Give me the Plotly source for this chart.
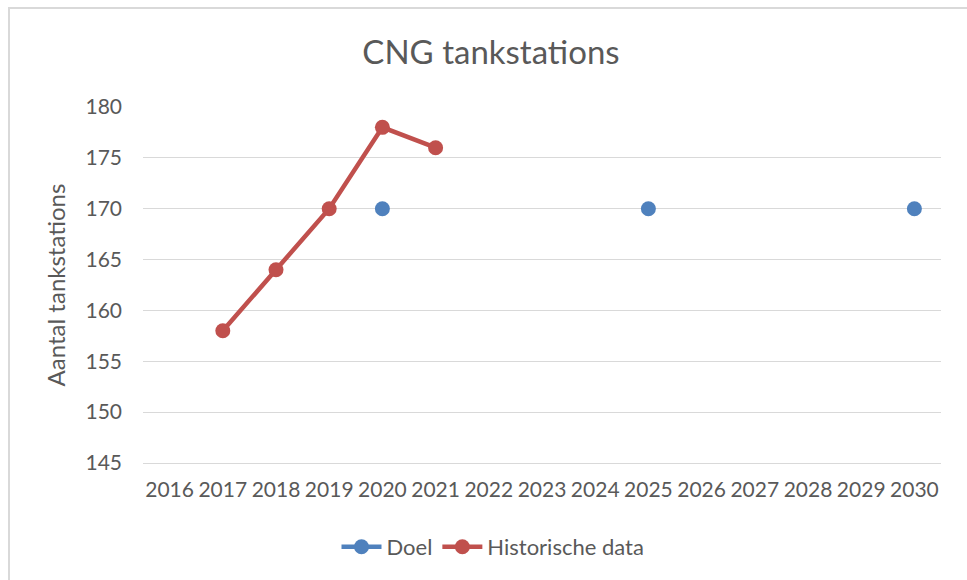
import plotly.graph_objects as go

categories = [str(y) for y in range(2016, 2031)]
doel_values = [None, None, None, None, 170, None, None, None, None, 170, None, None, None, None, 170]
hist_years = ["2017", "2018", "2019", "2020", "2021"]
hist_values = [158, 164, 170, 178, 176]

FONT = "Lato, Carlito, Calibri, sans-serif"
GREY = "#595959"
W, H = 967, 580
L, R, T, B = 143, 26, 107, 117
pw, ph = W - L - R, H - T - B

fig = go.Figure()
fig.add_trace(go.Scatter(
    x=categories, y=doel_values, name="Doel", mode="lines+markers", connectgaps=False,
    marker=dict(color="#4F81BD", size=15),
    line=dict(color="#4F81BD", width=4.5),
))
fig.add_trace(go.Scatter(
    x=hist_years, y=hist_values, name="Historische data", mode="lines+markers",
    marker=dict(color="#C0504D", size=15),
    line=dict(color="#C0504D", width=4.5),
))

fig.update_layout(
    width=W, height=H,
    margin=dict(l=L, r=R, t=T, b=B),
    paper_bgcolor="white", plot_bgcolor="white",
    font=dict(family=FONT, color=GREY, size=20),
    title=dict(text="CNG tankstations", x=491 / W, xref="container", xanchor="center",
               y=1 - 52 / H, yref="container", yanchor="middle",
               font=dict(size=33, color=GREY, family=FONT)),
    xaxis=dict(type="category", categoryorder="array", categoryarray=categories,
               range=[-0.5, 14.5], showgrid=False, showline=True, linecolor="#D9D9D9",
               linewidth=1, ticks="", tickfont=dict(size=21, color=GREY), ticklabelstandoff=8),
    yaxis=dict(range=[145, 180], dtick=5, showgrid=True, gridcolor="#D9D9D9", gridwidth=1,
               zeroline=False, showline=False, tickfont=dict(size=21, color=GREY),
               ticklabelstandoff=20,
               title=dict(text="Aantal tankstations", font=dict(size=24, color=GREY), standoff=13)),
    legend=dict(orientation="h", x=493 / W, xref="container", xanchor="center",
                y=1 - 547 / H, yref="container", yanchor="middle",
                font=dict(size=22, color=GREY), itemwidth=40, tracegroupgap=0),
    showlegend=True,
)
# chart border
fig.add_shape(type="rect", xref="paper", yref="paper",
              x0=(9 - L) / pw, x1=(W + 20 - L) / pw,
              y0=-(H + 20 - T - ph) / ph, y1=(H - 8 - B) / ph,
              line=dict(color="#D9D9D9", width=2), fillcolor="rgba(0,0,0,0)", layer="below")

fig.write_html("out.html", config={"displayModeBar": False},
               post_script="document.body.style.margin='0';document.body.style.overflow='hidden';")
